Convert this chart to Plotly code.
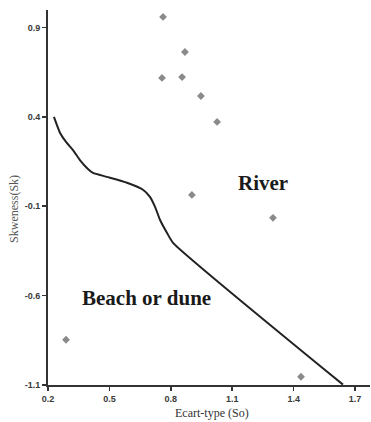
import plotly.graph_objects as go

# Sample points (Ecart-type So, Skewness Sk)
so_points = [0.762, 0.869, 0.757, 0.855, 0.947, 1.026, 0.903, 1.299, 0.288, 1.436]
sk_points = [0.958, 0.762, 0.617, 0.622, 0.516, 0.371, -0.037, -0.165, -0.847, -1.054]

# Boundary line between fields
line_so = [0.229, 0.259, 0.288, 0.322, 0.356, 0.395, 0.420, 0.488, 0.586, 0.664,
           0.698, 0.723, 0.747, 0.781, 0.811, 1.641]
line_sk = [0.399, 0.309, 0.259, 0.214, 0.158, 0.108, 0.086, 0.064, 0.031, -0.008,
           -0.048, -0.104, -0.176, -0.249, -0.305, -1.098]

x_ticks = [0.2, 0.5, 0.8, 1.1, 1.4, 1.7]
y_ticks = [0.9, 0.4, -0.1, -0.6, -1.1]
x_tick_text = ["0.2", "0.5", "0.8", "1.1", "1.4", "1.7"]
y_tick_text = ["0.9", "0.4", "-0.1", "-0.6", "-1.1"]

labels = ["River", "Beach or dune"]
label_so = [1.250, 0.679]
label_sk = [0.030, -0.612]

fig = go.Figure()
fig.add_trace(go.Scatter(x=line_so, y=line_sk, mode="lines",
                         line=dict(color="#222222", width=2, shape="spline", smoothing=0.5),
                         hoverinfo="skip", showlegend=False))
fig.add_trace(go.Scatter(x=so_points, y=sk_points, mode="markers",
                         marker=dict(symbol="diamond", size=6, color="#8a8a8a"),
                         showlegend=False))

for t, xx, yy in zip(labels, label_so, label_sk):
    fig.add_annotation(x=xx, y=yy, text=t, showarrow=False,
                       font=dict(family="Liberation Serif", size=21, color="#1a1a1a", weight="bold"))

tickfont = dict(family="Liberation Sans", size=9, color="#3a3a3a", weight="bold")
fig.update_xaxes(range=[0.2, 1.773], tickvals=x_ticks, ticktext=x_tick_text,
                 showgrid=False, zeroline=False, showline=True, linecolor="#333333",
                 linewidth=2, ticks="outside", ticklen=4, tickwidth=1.5, tickcolor="#333333",
                 tickfont=tickfont)
fig.update_yaxes(range=[-1.1, 0.997], tickvals=y_ticks, ticktext=y_tick_text,
                 showgrid=False, zeroline=False, showline=True, linecolor="#333333",
                 linewidth=2, ticks="outside", ticklen=4, tickwidth=1.5, tickcolor="#333333",
                 tickfont=tickfont)

fig.add_annotation(xref="paper", yref="paper", x=0.51, y=-0.074, yanchor="middle",
                   text="Ecart-type (So)", showarrow=False,
                   font=dict(family="Liberation Serif", size=12, color="#333333"))
fig.add_annotation(xref="paper", yref="paper", x=-0.105, y=0.47, xanchor="center",
                   text="Skweness(Sk)", showarrow=False, textangle=-90,
                   font=dict(family="Liberation Serif", size=12, color="#555555"))

fig.update_layout(width=371, height=422, margin=dict(l=48, r=1, t=10, b=37),
                  plot_bgcolor="white", paper_bgcolor="white", hovermode=False)
fig.write_html("out.html", config={"displayModeBar": False, "staticPlot": True},
               post_script="document.body.style.margin='0';document.body.style.overflow='hidden';")
